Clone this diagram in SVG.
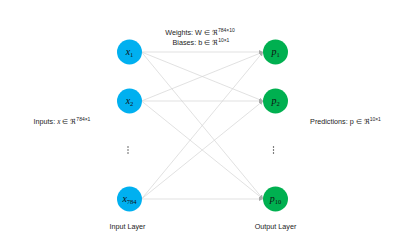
<svg xmlns="http://www.w3.org/2000/svg" width="397" height="243" viewBox="0 0 397 243">
<style>
.in{fill:#00B0F0}
.out{fill:#00B050}
.edge{stroke:#d4d4d4;stroke-width:0.7;fill:none}
.lbl{font-family:"Liberation Sans",Arial,sans-serif;font-size:7.2px;fill:#222}
.sup{font-size:5px}
.math{font-family:"Liberation Serif","DejaVu Serif",serif;font-style:italic;font-size:10px;fill:#111}
.sub{font-style:normal;font-size:6.5px}
.dots{fill:#333}
</style>
<defs>
<marker id="arr" viewBox="0 0 6 6" refX="6" refY="3" markerWidth="4" markerHeight="4" orient="auto" markerUnits="userSpaceOnUse">
<path d="M0,0 L6,3 L0,6 z" fill="#aaa"/>
</marker>
</defs>
<rect width="397" height="243" fill="#fff"/>
<g id="connectors">
<line class="edge" x1="141.5" y1="52" x2="263" y2="52" marker-end="url(#arr)"/>
<line class="edge" x1="141.5" y1="52" x2="263" y2="101" marker-end="url(#arr)"/>
<line class="edge" x1="141.5" y1="52" x2="263" y2="199" marker-end="url(#arr)"/>
<line class="edge" x1="141.5" y1="101" x2="263" y2="52" marker-end="url(#arr)"/>
<line class="edge" x1="141.5" y1="101" x2="263" y2="101" marker-end="url(#arr)"/>
<line class="edge" x1="141.5" y1="101" x2="263" y2="199" marker-end="url(#arr)"/>
<line class="edge" x1="141.5" y1="199" x2="263" y2="52" marker-end="url(#arr)"/>
<line class="edge" x1="141.5" y1="199" x2="263" y2="101" marker-end="url(#arr)"/>
<line class="edge" x1="141.5" y1="199" x2="263" y2="199" marker-end="url(#arr)"/>
</g>
<g id="x1">
<circle class="in" cx="129.5" cy="52" r="12.5"/>
<text class="math" x="129.5" y="55" text-anchor="middle">x<tspan class="sub" dy="2">1</tspan></text>
</g>
<g id="x2">
<circle class="in" cx="129.5" cy="101" r="12.5"/>
<text class="math" x="129.5" y="104" text-anchor="middle">x<tspan class="sub" dy="2">2</tspan></text>
</g>
<g id="x784">
<circle class="in" cx="129.5" cy="199" r="12.5"/>
<text class="math" x="129.5" y="202" text-anchor="middle">x<tspan class="sub" dy="2">784</tspan></text>
</g>
<g id="p1">
<circle class="out" cx="275.5" cy="52" r="12.5"/>
<text class="math" x="275.5" y="55" text-anchor="middle">p<tspan class="sub" dy="2">1</tspan></text>
</g>
<g id="p2">
<circle class="out" cx="275.5" cy="101" r="12.5"/>
<text class="math" x="275.5" y="104" text-anchor="middle">p<tspan class="sub" dy="2">2</tspan></text>
</g>
<g id="p10">
<circle class="out" cx="275.5" cy="199" r="12.5"/>
<text class="math" x="275.5" y="202" text-anchor="middle">p<tspan class="sub" dy="2">10</tspan></text>
</g>
<g id="input-dots">
<circle class="dots" cx="128" cy="147" r="0.7"/>
<circle class="dots" cx="128" cy="150" r="0.7"/>
<circle class="dots" cx="128" cy="153" r="0.7"/>
</g>
<g id="output-dots">
<circle class="dots" cx="273.5" cy="147" r="0.7"/>
<circle class="dots" cx="273.5" cy="150" r="0.7"/>
<circle class="dots" cx="273.5" cy="153" r="0.7"/>
</g>
<g id="labels">
<text class="lbl" x="200" y="35" text-anchor="middle">Weights: W ∈ ℜ<tspan class="sup" dy="-3">784×10</tspan></text>
<text class="lbl" x="201" y="45" text-anchor="middle">Biases: b ∈ ℜ<tspan class="sup" dy="-3">10×1</tspan></text>
<text class="lbl" x="62" y="124" text-anchor="middle">Inputs: <tspan font-family="Liberation Serif,serif" font-style="italic">x</tspan> ∈ ℜ<tspan class="sup" dy="-3">784×1</tspan></text>
<text class="lbl" x="345.5" y="124" text-anchor="middle">Predictions: p ∈ ℜ<tspan class="sup" dy="-3">10×1</tspan></text>
<text class="lbl" x="127.5" y="229" text-anchor="middle">Input Layer</text>
<text class="lbl" x="275.5" y="229" text-anchor="middle">Output Layer</text>
</g>
</svg>
